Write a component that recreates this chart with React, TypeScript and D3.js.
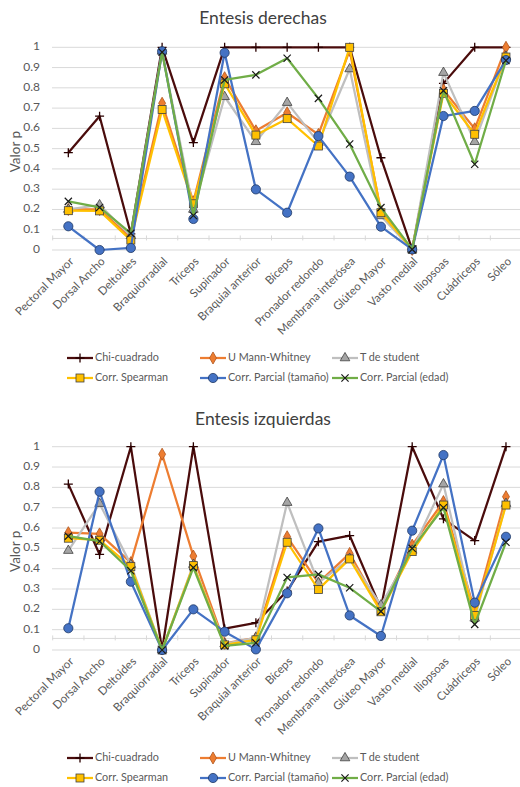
import React from "react";
import * as d3 from "d3";

const categories = [
  "Pectoral Mayor", "Dorsal Ancho", "Deltoides", "Braquiorradial", "Tríceps",
  "Supinador", "Braquial anterior", "Bíceps", "Pronador redondo", "Membrana interósea",
  "Glúteo Mayor", "Vasto medial", "Iliopsoas", "Cuádriceps", "Sóleo",
];
const yTicks = [0, 0.1, 0.2, 0.3, 0.4, 0.5, 0.6, 0.7, 0.8, 0.9, 1];
const seriesNames = [
  "Chi-cuadrado", "U Mann-Whitney", "T de student",
  "Corr. Spearman", "Corr. Parcial (tamaño)", "Corr. Parcial (edad)",
];

// Entesis derechas
const derChi = [0.48, 0.66, 0.08, 1, 0.53, 1, 1, 1, 1, 1, 0.455, 0.003, 0.822, 1, 1];
const derMann = [0.2, 0.2, 0.06, 0.724, 0.238, 0.85, 0.588, 0.677, 0.57, 0.985, 0.19, 0.003, 0.79, 0.598, 1];
const derT = [0.2, 0.222, 0.07, 0.98, 0.2, 0.756, 0.534, 0.727, 0.53, 0.893, 0.168, 0.003, 0.875, 0.534, 0.955];
const derSpear = [0.194, 0.193, 0.049, 0.693, 0.228, 0.82, 0.567, 0.648, 0.513, 1, 0.184, 0.003, 0.773, 0.571, 0.952];
const derTam = [0.117, 0.0, 0.01, 0.98, 0.153, 0.973, 0.299, 0.184, 0.562, 0.362, 0.115, 0.003, 0.661, 0.686, 0.937];
const derEdad = [0.24, 0.21, 0.082, 0.976, 0.17, 0.839, 0.864, 0.946, 0.748, 0.523, 0.209, 0.003, 0.786, 0.423, 0.935];

// Entesis izquierdas
const izqChi = [0.816, 0.47, 1, 0.0, 1, 0.105, 0.134, 0.29, 0.533, 0.563, 0.205, 1, 0.645, 0.538, 1];
const izqMann = [0.577, 0.571, 0.43, 0.963, 0.462, 0.033, 0.06, 0.557, 0.33, 0.475, 0.2, 0.516, 0.73, 0.19, 0.754];
const izqT = [0.489, 0.72, 0.42, 0.0, 0.42, 0.03, 0.06, 0.725, 0.33, 0.45, 0.221, 0.49, 0.816, 0.156, 0.72];
const izqSpear = [0.55, 0.54, 0.41, 0.0, 0.415, 0.025, 0.05, 0.53, 0.298, 0.448, 0.188, 0.484, 0.713, 0.17, 0.713];
const izqTam = [0.107, 0.779, 0.336, 0.0, 0.2, 0.09, 0.003, 0.279, 0.598, 0.17, 0.069, 0.587, 0.959, 0.233, 0.557];
const izqEdad = [0.56, 0.535, 0.39, 0.0, 0.405, 0.02, 0.035, 0.357, 0.372, 0.306, 0.19, 0.5, 0.7, 0.126, 0.53];

const styles = [
  { color: "#4a0c0c", marker: "plus" },
  { color: "#ed7d31", marker: "diamond" },
  { color: "#bfbfbf", marker: "triangle" },
  { color: "#ffc000", marker: "square" },
  { color: "#4472c4", marker: "circle" },
  { color: "#70ad47", marker: "x" },
];

const FONT = "Lato, 'Open Sans', sans-serif";
const TEXT = "#595959";
const GRID = "#d9d9d9";

function Marker({ type, x, y }: { type: string; x: number; y: number }) {
  const t = `translate(${x},${y})`;
  switch (type) {
    case "plus":
      return <path transform={t} d="M-4.5,0H4.5M0,-4.5V4.5" stroke="#2a0000" strokeWidth={1.3} fill="none" />;
    case "diamond":
      return <path transform={t} d={d3.symbol(d3.symbolDiamond, 42)()!} fill="#ed7d31" stroke="#b0541c" strokeWidth={0.8} />;
    case "triangle":
      return <path transform={t} d={d3.symbol(d3.symbolTriangle, 40)()!} fill="#a5a5a5" stroke="#404040" strokeWidth={0.8} />;
    case "square":
      return <rect transform={t} x={-4} y={-4} width={8} height={8} fill="#ffc000" stroke="#404040" strokeWidth={0.8} />;
    case "circle":
      return <circle transform={t} r={4.6} fill="#4472c4" stroke="#1f3864" strokeWidth={0.8} />;
    case "x":
      return <path transform={t} d="M-3.6,-3.6L3.6,3.6M-3.6,3.6L3.6,-3.6" stroke="#1a1a1a" strokeWidth={1.2} fill="none" />;
  }
  return null;
}

function Chart({
  title, data, titleY, plotTop, plotBottom, legendY,
}: {
  title: string; data: number[][]; titleY: number; plotTop: number; plotBottom: number; legendY: number;
}) {
  const x = d3.scaleBand<string>().domain(categories).range([52.7, 521.6]).padding(0);
  const y = d3.scaleLinear().domain([0, 1]).range([plotBottom, plotTop]);
  const cx = (c: string) => (x(c) as number) + x.bandwidth() / 2;
  const line = d3.line<number>().x((_, i) => cx(categories[i])).y((v) => y(v));
  const axisY = y(0.057);
  const bounds = categories.map((c) => x(c) as number).concat([52.7 + x.bandwidth() * categories.length]);
  const legendCols = [67, 200, 332];

  return (
    <g>
      <text x={263} y={titleY} textAnchor="middle" dominantBaseline="middle" fontFamily={FONT} fontSize={17.5} fill="#404040">
        {title}
      </text>
      {yTicks.map((t) => (
        <g key={t}>
          <line x1={52} x2={520} y1={y(t)} y2={y(t)} stroke={GRID} strokeWidth={1} />
          <text x={40} y={y(t)} textAnchor="end" dominantBaseline="middle" fontFamily={FONT} fontSize={12} fill={TEXT}>
            {String(t)}
          </text>
        </g>
      ))}
      <line x1={52} x2={520} y1={axisY} y2={axisY} stroke={GRID} strokeWidth={1} />
      {bounds.map((b, i) => (
        <line key={i} x1={b} x2={b} y1={axisY - 3} y2={axisY + 2} stroke={GRID} strokeWidth={1} />
      ))}
      <text
        transform={`translate(17,${(plotTop + plotBottom) / 2 + 3}) rotate(-90)`}
        textAnchor="middle" dominantBaseline="middle" fontFamily={FONT} fontSize={13.5} fill={TEXT}
      >
        Valor p
      </text>
      {categories.map((c) => (
        <text
          key={c}
          transform={`translate(${cx(c) + 4},${plotBottom + 10}) rotate(-45)`}
          textAnchor="end" dominantBaseline="middle" fontFamily={FONT} fontSize={11.5} fill={TEXT}
        >
          {c}
        </text>
      ))}
      {data.map((vals, si) => (
        <g key={si}>
          <path d={line(vals)!} fill="none" stroke={styles[si].color} strokeWidth={2.25} strokeLinejoin="round" />
          {vals.map((v, i) => (
            <Marker key={i} type={styles[si].marker} x={cx(categories[i])} y={y(v)} />
          ))}
        </g>
      ))}
      {seriesNames.map((n, i) => {
        const lx = legendCols[i % 3];
        const ly = legendY + Math.floor(i / 3) * 20;
        return (
          <g key={n}>
            <line x1={lx} x2={lx + 26} y1={ly} y2={ly} stroke={styles[i].color} strokeWidth={2.25} />
            <Marker type={styles[i].marker} x={lx + 13} y={ly} />
            <text x={lx + 28} y={ly} dominantBaseline="middle" fontFamily={FONT} fontSize={10.8} fill={TEXT}>
              {n}
            </text>
          </g>
        );
      })}
    </g>
  );
}

export default function App() {
  const der = [derChi, derMann, derT, derSpear, derTam, derEdad];
  const izq = [izqChi, izqMann, izqT, izqSpear, izqTam, izqEdad];
  return (
    <svg width={520} height={787} style={{ position: "absolute", left: 0, top: 0, background: "#fff" }}>
      <rect width={520} height={787} fill="#fff" />
      <Chart title="Entesis derechas" data={der} titleY={20} plotTop={47.3} plotBottom={250} legendY={358} />
      <Chart title="Entesis izquierdas" data={izq} titleY={421} plotTop={446.7} plotBottom={650} legendY={758} />
    </svg>
  );
}
